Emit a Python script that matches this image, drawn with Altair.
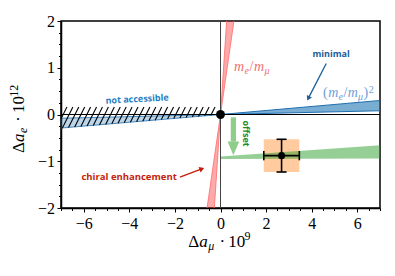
import altair as alt
import pandas as pd

# ---------------- data ----------------
X_DOMAIN = [-7, 7]
Y_DOMAIN = [-2, 2]
x_major = [-6, -4, -2, 0, 2, 4, 6]
x_minor = [i * 0.5 for i in range(-14, 15)]
y_major = [-2, -1, 0, 1, 2]
y_minor = [i * 0.25 for i in range(-8, 9)]

# chiral enhancement band  (m_e/m_mu): x edges as function of y
red_y = [-2, 0, 2]
red_x_in = [-0.27, 0, 0.27]
red_x_out = [-0.59, 0, 0.59]

# minimal band (m_e/m_mu)^2, left and right halves
blue_left_x = [-7, 0]
blue_left_lo = [-0.08, 0]
blue_left_hi = [-0.29, 0]
blue_right_x = [0, 7]
blue_right_lo = [0, 0.08]
blue_right_hi = [0, 0.30]

# offset band
green_x = [0, 7]
green_lo = [-0.95, -0.94]
green_hi = [-0.90, -0.66]

# measurement with errors
meas_x, meas_xerr = 2.68, 0.78
meas_y, meas_yerr = -0.88, 0.35

# not-accessible hatched region (top level, bottom follows lower blue edge)
hatch_top = 0.16
hatch_bottom_slope = 0.042

# arrows
green_arrow_x = [0.45, 0.68]
green_arrow_y = [-0.06, -0.58]
green_head_x = [0.31, 0.565, 0.82]
green_head_y = [-0.58, -0.87, -0.58]
blue_arrow = [4.64, 1.09, 3.87, 0.36]
red_arrow = [-1.78, -1.34, -0.85, -1.17]

# ---------------- helpers ----------------
xs = alt.Scale(domain=X_DOMAIN, nice=False, zero=False)
ys = alt.Scale(domain=Y_DOMAIN, nice=False, zero=False)

ax_x_major = alt.Axis(values=x_major, format="d", orient="bottom", title=None,
                      tickSize=4, labelPadding=3, domain=True)
ax_x_minor = alt.Axis(values=x_minor, orient="bottom", title=None, labels=False,
                      tickSize=2.5, domain=False)
ax_y_major = alt.Axis(values=y_major, format="d", orient="left", title=None,
                      tickSize=4, labelPadding=2.5, domain=True)
ax_y_minor = alt.Axis(values=y_minor, orient="left", title=None, labels=False,
                      tickSize=2.5, domain=False)

def X(f, axis=None):
    return alt.X(f, scale=xs, axis=axis)

def Y(f, axis=None):
    return alt.Y(f, scale=ys, axis=axis)

layers = []

# orange error box
rect_df = pd.DataFrame({"x1": [meas_x - meas_xerr], "x2": [meas_x + meas_xerr],
                        "y1": [meas_y - meas_yerr], "y2": [meas_y + meas_yerr]})
layers.append(alt.Chart(rect_df).mark_rect(color="#ffcb9f").encode(
    x=X("x1:Q", ax_x_major), x2="x2:Q", y=Y("y1:Q", ax_y_major), y2="y2:Q"))

# blue band
bl_df = pd.DataFrame({"x": blue_left_x, "lo": blue_left_lo, "hi": blue_left_hi})
br_df = pd.DataFrame({"x": blue_right_x, "lo": blue_right_lo, "hi": blue_right_hi})
layers.append(alt.Chart(bl_df).mark_area(color="#1f77b4", opacity=0.3, orient="vertical").encode(
    x=X("x:Q", ax_x_minor), y=Y("lo:Q", ax_y_minor), y2="hi:Q"))
layers.append(alt.Chart(br_df).mark_area(color="#1f77b4", opacity=0.6, orient="vertical").encode(
    x=X("x:Q"), y=Y("lo:Q"), y2="hi:Q"))
for d, w in [(bl_df, 0.8), (br_df, 1)]:
    for col in ["lo", "hi"]:
        layers.append(alt.Chart(d).mark_line(color="#1f6fb0", strokeWidth=w).encode(
            x=X("x:Q"), y=Y(f"{col}:Q")))

# green band
green_df = pd.DataFrame({"x": green_x, "lo": green_lo, "hi": green_hi})
layers.append(alt.Chart(green_df).mark_area(color="#2ca02c", opacity=0.5, orient="vertical").encode(
    x=X("x:Q"), y=Y("lo:Q"), y2="hi:Q"))

# red band
red_df = pd.DataFrame({"y": red_y, "xi": red_x_in, "xo": red_x_out})
layers.append(alt.Chart(red_df).mark_area(color="#ff2020", opacity=0.38, orient="horizontal").encode(
    y=Y("y:Q"), x=X("xi:Q"), x2="xo:Q"))
for col in ["xi", "xo"]:
    layers.append(alt.Chart(red_df).mark_line(color="#ff6b6b", strokeWidth=0.8).encode(
        y=Y("y:Q"), x=X(f"{col}:Q"), order="y:Q"))

# hatch lines ("///")
slope = 0.975
rows = []
for i in range(1, 28):
    xt = -7 + 0.26 * i
    if xt > 0:
        break
    xb = (slope * xt - hatch_top) / (slope - hatch_bottom_slope)
    yb = hatch_bottom_slope * xb
    if xb < -7:
        xb = -7
        yb = hatch_top + slope * (-7 - xt)
    rows.append({"x1": xb, "y1": yb, "x2": xt, "y2": hatch_top})
hatch_df = pd.DataFrame(rows)
layers.append(alt.Chart(hatch_df).mark_rule(color="black", strokeWidth=1.1).encode(
    x=X("x1:Q"), y=Y("y1:Q"), x2="x2:Q", y2="y2:Q"))

# zero lines
layers.append(alt.Chart(pd.DataFrame({"y": [0]})).mark_rule(color="black", strokeWidth=1).encode(
    y=Y("y:Q")))
layers.append(alt.Chart(pd.DataFrame({"x": [0]})).mark_rule(color="#444444", strokeWidth=1).encode(
    x=X("x:Q")))

# green offset arrow
shaft_df = pd.DataFrame({"x1": [green_arrow_x[0]], "x2": [green_arrow_x[1]],
                         "y1": [green_arrow_y[0]], "y2": [green_arrow_y[1]]})
layers.append(alt.Chart(shaft_df).mark_rect(color="#8fcd8a").encode(
    x=X("x1:Q"), x2="x2:Q", y=Y("y1:Q"), y2="y2:Q"))
head_df = pd.DataFrame({"x": green_head_x, "y": green_head_y, "y2": [green_head_y[0]] * 3})
layers.append(alt.Chart(head_df).mark_area(color="#8fcd8a", orient="vertical").encode(
    x=X("x:Q"), y=Y("y:Q"), y2="y2:Q"))

# annotation arrows
for arr, col, ang in [(blue_arrow, "#1a5e9a", 206.6), (red_arrow, "#c41e0a", 69.4)]:
    adf = pd.DataFrame({"x1": [arr[0]], "y1": [arr[1]], "x2": [arr[2]], "y2": [arr[3]]})
    layers.append(alt.Chart(adf).mark_rule(color=col, strokeWidth=1.3).encode(
        x=X("x1:Q"), y=Y("y1:Q"), x2="x2:Q", y2="y2:Q"))
    layers.append(alt.Chart(adf).mark_point(shape="triangle", filled=True, opacity=1,
                                            color=col, size=32, angle=ang).encode(
        x=X("x2:Q"), y=Y("y2:Q")))

# error bars
err_df = pd.DataFrame({
    "x1": [meas_x - meas_xerr, meas_x, meas_x - meas_xerr, meas_x + meas_xerr, meas_x - 0.22, meas_x - 0.22],
    "x2": [meas_x + meas_xerr, meas_x, meas_x - meas_xerr, meas_x + meas_xerr, meas_x + 0.22, meas_x + 0.22],
    "y1": [meas_y, meas_y - meas_yerr, meas_y - 0.1, meas_y - 0.1, meas_y - meas_yerr, meas_y + meas_yerr],
    "y2": [meas_y, meas_y + meas_yerr, meas_y + 0.1, meas_y + 0.1, meas_y - meas_yerr, meas_y + meas_yerr],
})
layers.append(alt.Chart(err_df).mark_rule(color="black", strokeWidth=1.6).encode(
    x=X("x1:Q"), y=Y("y1:Q"), x2="x2:Q", y2="y2:Q"))

# dots
layers.append(alt.Chart(pd.DataFrame({"x": [0], "y": [0]})).mark_circle(color="black", size=80, opacity=1).encode(
    x=X("x:Q"), y=Y("y:Q")))
layers.append(alt.Chart(pd.DataFrame({"x": [meas_x], "y": [meas_y]})).mark_circle(color="black", size=50, opacity=1).encode(
    x=X("x:Q"), y=Y("y:Q")))

# sans bold annotations
def label(text, x, y, color, size, angle=0):
    return alt.Chart(pd.DataFrame({"x": [x], "y": [y], "t": [text]})).mark_text(
        font="Open Sans", fontWeight="bold", fontSize=size, color=color, angle=angle,
        align="center", baseline="middle").encode(x=X("x:Q"), y=Y("y:Q"), text="t:N")

layers.append(label("not accessible", -3.66, 0.33, "#1f7fc4", 9, 357))
layers.append(label("minimal", 4.85, 1.29, "#1a5e9a", 9))
layers.append(label("chiral enhancement", -4.01, -1.34, "#c41e0a", 9.5))
layers.append(label("offset", 1.1, -0.41, "#228b22", 9, 90))

# math-style text pieces (page pixel layout; plot origin at 61,21)
OX, OY = 61, 21

def pieces(items, italic, color, angle=0):
    df = pd.DataFrame(items, columns=["t", "px", "py", "fs"])
    df["px"] = df["px"] - OX
    df["py"] = df["py"] - OY
    return alt.Chart(df).mark_text(
        font="Liberation Serif", fontStyle="italic" if italic else "normal",
        color=color, angle=angle, align="left", baseline="alphabetic").encode(
        x=alt.X("px:Q", scale=None), y=alt.Y("py:Q", scale=None),
        size=alt.Size("fs:Q", scale=None), text="t:N")

# x title  Δa_μ · 10^9
layers.append(pieces([("Δ", 188.3, 247.3, 17), ("·", 219.6, 247.3, 17),
                      ("10", 228.3, 247.3, 17), ("9", 244.5, 240.3, 12)], False, "black"))
layers.append(pieces([("a", 199.3, 247.3, 17), ("μ", 208.3, 250.3, 12)], True, "black"))
# y title  Δa_e · 10^12
layers.append(pieces([("Δ", 24, 153, 17), ("·", 24, 121.7, 17),
                      ("10", 24, 113, 17), ("12", 18, 96.8, 12)], False, "black", 270))
layers.append(pieces([("a", 24, 142, 17), ("e", 26.5, 133, 12)], True, "black", 270))
# m_e/m_μ
layers.append(pieces([("/", 249.5, 71, 14)], False, "#f07070"))
layers.append(pieces([("m", 234, 71, 14), ("e", 244.5, 73.5, 10),
                      ("m", 254, 71, 14), ("μ", 264.5, 73.5, 10)], True, "#f07070"))
# (m_e/m_μ)^2
layers.append(pieces([("(", 323, 97, 14), ("/", 343.4, 97, 14),
                      (")", 363.6, 97, 14), ("2", 368.8, 92.5, 10)], False, "#6fa0d8"))
layers.append(pieces([("m", 328.2, 97, 14), ("e", 338.6, 99.5, 10),
                      ("m", 347.7, 97, 14), ("μ", 358.1, 99.5, 10)], True, "#6fa0d8"))

chart = alt.layer(*layers).resolve_axis(x="independent", y="independent").properties(
    width=319, height=187,
    autosize=alt.AutoSizeParams(type="none"),
    padding={"left": 53, "top": 13, "right": 7, "bottom": 52},
).configure_view(stroke="black", strokeWidth=1.5).configure_axis(
    grid=False, labelFont="Liberation Serif", labelFontSize=16, labelColor="black",
    tickColor="black", tickWidth=1, domainColor="black", domainWidth=1.5,
    labelOverlap=False, labelFlush=False)

chart.save("out.html", embed_options={"renderer": "svg", "actions": False})
